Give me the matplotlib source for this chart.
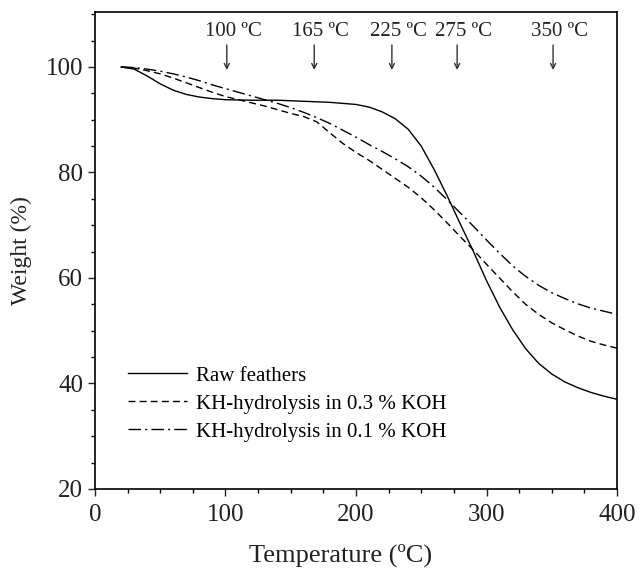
import matplotlib
matplotlib.use("Agg")
import matplotlib.pyplot as plt
from matplotlib.ticker import MultipleLocator

plt.rcParams['font.family'] = ['Liberation Serif', 'DejaVu Serif']

temp = [20, 30, 40, 50, 60, 70, 80, 90, 100, 110, 120, 130, 140, 150, 160, 170, 180, 190, 200,
        210, 220, 230, 240, 250, 260, 270, 280, 290, 300, 310, 320, 330, 340, 350, 360, 370,
        380, 390, 400]

raw_feathers = [100, 99.6, 98.3, 96.8, 95.6, 94.8, 94.3, 94.0, 93.8, 93.75, 93.7, 93.7, 93.7,
                93.6, 93.5, 93.4, 93.3, 93.1, 92.9, 92.4, 91.5, 90.2, 88.2, 85.0, 80.5, 75.5,
                70.2, 65.0, 59.5, 54.5, 50.2, 46.6, 43.8, 41.8, 40.3, 39.2, 38.3, 37.6, 37.0]

kh_03 = [100, 99.8, 99.3, 98.7, 97.9, 97.0, 96.1, 95.2, 94.4, 93.8, 93.2, 92.6, 91.9, 91.2,
         90.6, 89.6, 87.5, 85.5, 83.8, 82.3, 80.6, 78.9, 77.2, 75.2, 72.9, 70.4, 67.8, 65.3,
         62.6, 60.0, 57.4, 55.0, 53.1, 51.5, 50.2, 49.0, 48.0, 47.3, 46.7]

kh_01 = [100, 99.9, 99.6, 99.2, 98.7, 98.1, 97.4, 96.6, 95.9, 95.2, 94.5, 93.8, 93.1, 92.3,
         91.4, 90.4, 89.3, 88.0, 86.7, 85.3, 84.0, 82.6, 81.1, 79.3, 77.2, 74.8, 72.3, 69.8,
         67.2, 64.7, 62.3, 60.3, 58.6, 57.2, 56.1, 55.1, 54.3, 53.7, 53.1]

series_labels = ['Raw feathers', 'KH-hydrolysis in 0.3 % KOH', 'KH-hydrolysis in 0.1 % KOH']
arrow_temps = [101, 168, 227.5, 277.5, 351]
arrow_labels = ['100 ºC', '165 ºC', '225 ºC', '275 ºC', '350 ºC']

fig = plt.figure(figsize=(6.43, 5.78), dpi=100)
ax = fig.add_axes([0.1477, 0.154, 0.8119, 0.825])

ax.plot(temp, raw_feathers, color='black', lw=1.0, linestyle='-', label=series_labels[0])
ax.plot(temp, kh_03, color='black', lw=1.0, linestyle=(0, (5, 3)), label=series_labels[1])
ax.plot(temp, kh_01, color='black', lw=1.0, linestyle=(0, (9, 3, 1.5, 3)), label=series_labels[2])

for t, lab in zip(arrow_temps, arrow_labels):
    ax.annotate('', xy=(t, 98.9), xytext=(t, 104.7),
                arrowprops=dict(arrowstyle='->', color='#333333', lw=1.0,
                                mutation_scale=9))
    ax.text(t + 5, 105.9, lab, ha='center', va='baseline', fontsize=15, color='#222222')

ax.set_xlim(0, 400)
ax.set_ylim(20, 110.4)
ax.xaxis.set_major_locator(MultipleLocator(100))
ax.xaxis.set_minor_locator(MultipleLocator(25))
ax.yaxis.set_major_locator(MultipleLocator(20))
ax.yaxis.set_minor_locator(MultipleLocator(5))
ax.set_yticks([20, 40, 60, 80, 100])
ax.tick_params(axis='both', which='major', direction='out', length=5, width=1,
               labelsize=18, colors='#222222')
ax.tick_params(axis='both', which='minor', direction='out', length=3, width=1)
ax.tick_params(axis='x', which='major', pad=6)

ax.set_ylabel('Weight (%)', fontsize=17, labelpad=10, color='#222222')
fig.text(0.530, 0.040, 'Temperature (ºC)', fontsize=19, ha='center', va='center',
         color='#222222')

for sp in ax.spines.values():
    sp.set_linewidth(1.2)

leg = ax.legend(loc='upper left', bbox_to_anchor=(0.048, 0.275), frameon=False,
                fontsize=15, handlelength=2.8, handletextpad=0.43, labelspacing=0.4,
                borderaxespad=0)

fig.savefig('out.png', dpi=100)
